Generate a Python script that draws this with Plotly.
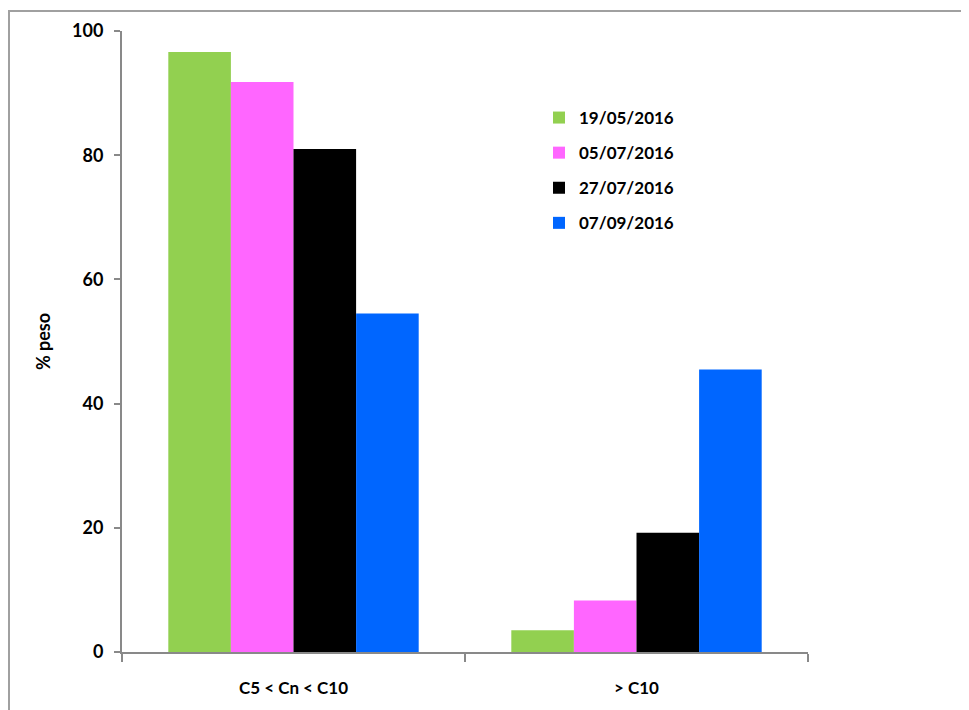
import plotly.graph_objects as go

categories = ["C5 < Cn < C10", "> C10"]
series_names = ["19/05/2016", "05/07/2016", "27/07/2016", "07/09/2016"]
series_colors = ["#92D050", "#FF66FF", "#000000", "#0066FF"]
values_1905 = [96.6, 3.5]
values_0507 = [91.8, 8.3]
values_2707 = [81.0, 19.2]
values_0709 = [54.5, 45.5]
all_values = [values_1905, values_0507, values_2707, values_0709]
y_ticks = [0, 20, 40, 60, 80, 100]

FONT = "Lato"
fig = go.Figure()
for i, (name, color, vals) in enumerate(zip(series_names, series_colors, all_values)):
    fig.add_trace(go.Bar(x=categories, y=vals, name=name, marker_color=color,
                         marker_line_width=0, legendgroup=f"g{i}"))

OFF = 8  # page body offset
W, H = 969, 710
L, R, T, B = 122 - OFF, 808 - OFF, 31 - OFF, 652 - OFF
pw, ph = R - L, B - T

def px_x(x):
    return (x - OFF - L) / pw

def px_y(y):
    return (B - (y - OFF)) / ph

fig.update_layout(
    width=W, height=H,
    margin=dict(l=L, r=W - R, t=T, b=H - B, pad=0),
    paper_bgcolor="white", plot_bgcolor="white",
    barmode="group", bargap=0.27, bargroupgap=0,
    font=dict(family=FONT, size=17, color="black"),
    showlegend=True,
    legend=dict(x=px_x(539), y=px_y(100), xanchor="left", yanchor="top",
                traceorder="grouped", tracegroupgap=10,
                font=dict(family=FONT, size=17, color="black", weight="bold"),
                bgcolor="rgba(0,0,0,0)", itemwidth=30),
    xaxis=dict(showline=True, linecolor="#898989", linewidth=2,
               ticks="outside", ticklen=8, tickcolor="#898989", tickwidth=2,
               tickson="boundaries", showgrid=False,
               tickfont=dict(family=FONT, size=17, color="black", weight="bold"),
               ticklabelstandoff=20),
    yaxis=dict(range=[0, 100], tickvals=y_ticks, showline=True, linecolor="#898989",
               linewidth=2, ticks="outside", ticklen=6, tickcolor="#898989", tickwidth=2,
               showgrid=False, zeroline=False, ticklabelstandoff=7,
               tickfont=dict(family=FONT, size=18, color="black", weight="bold"),
               title=dict(text="% peso", font=dict(family=FONT, size=18, color="black", weight="bold"),
                          standoff=17)),
    shapes=[dict(type="rect", xref="paper", yref="paper",
                 x0=px_x(9), x1=px_x(1000), y0=px_y(740), y1=px_y(11),
                 line=dict(color="#A0A0A0", width=2), fillcolor="rgba(0,0,0,0)", layer="below")],
)
fig.write_html("out.html")
